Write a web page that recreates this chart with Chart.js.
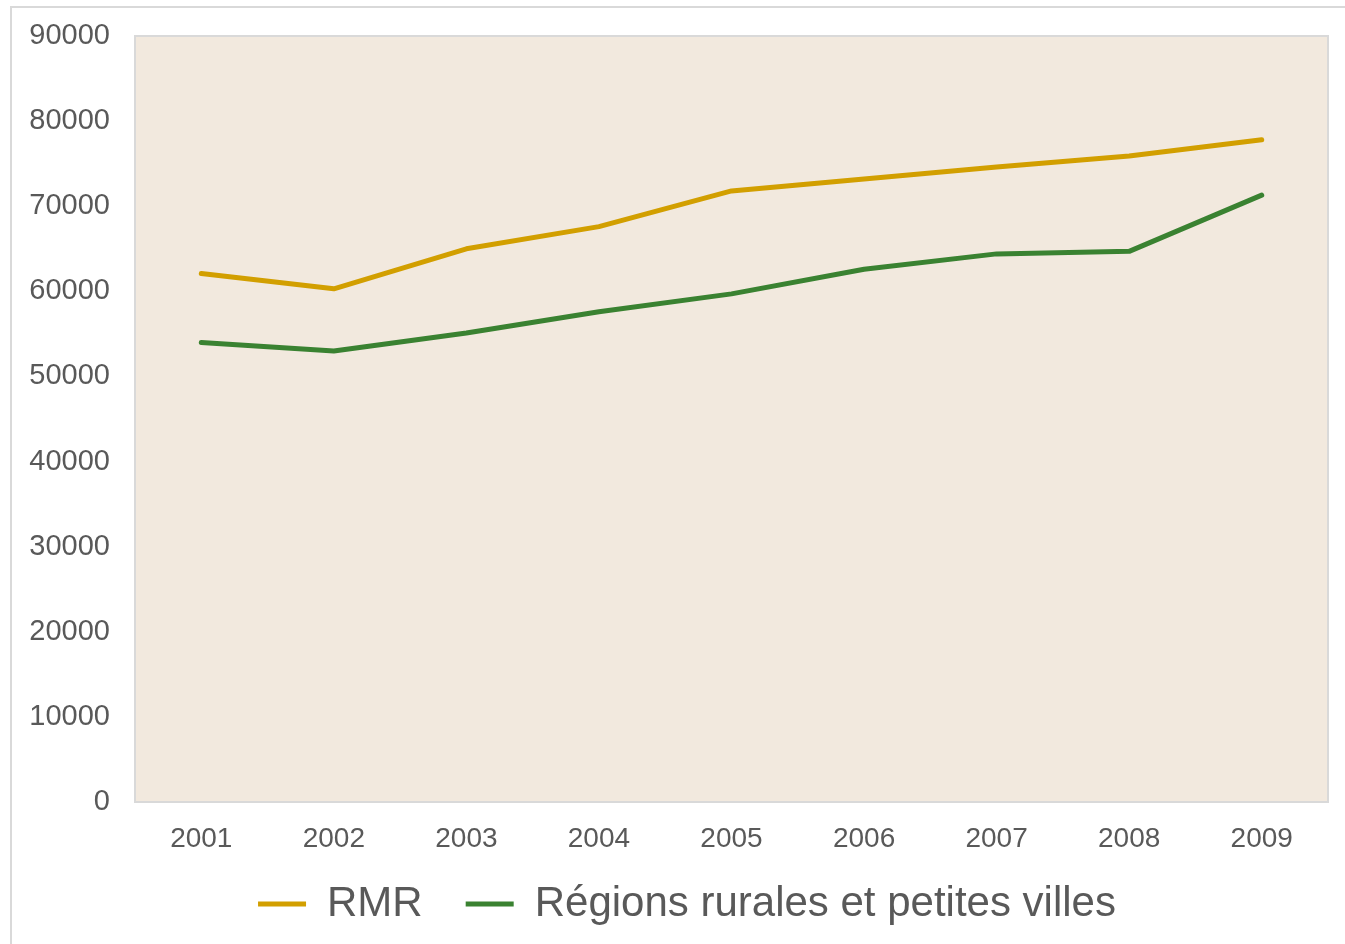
<!DOCTYPE html>
<html lang="fr">
<head>
  <meta charset="UTF-8">
  <title>RMR vs régions rurales</title>
  <script src="https://cdn.jsdelivr.net/npm/chart.js"></script>
  <style>
    html, body { margin: 0; padding: 0; background: #ffffff; }
    #wrap { width: 1345px; height: 944px; }
  </style>
</head>
<body>
  <div id="wrap">
    <canvas id="chart" width="1345" height="944"></canvas>
  </div>
  <script>
    const years = ['2001', '2002', '2003', '2004', '2005', '2006', '2007', '2008', '2009'];
    const rmrValues = [62100, 60300, 65000, 67600, 71800, 73200, 74600, 75900, 77800];
    const ruralValues = [54000, 53000, 55100, 57600, 59700, 62600, 64400, 64700, 71300];
    const seriesNames = ['RMR', 'Régions rurales et petites villes'];
    const yTicks = [0, 10000, 20000, 30000, 40000, 50000, 60000, 70000, 80000, 90000];

    const textColor = '#595959';
    const fontFamily = "'Liberation Sans', Arial, sans-serif";

    // outer frame + beige plot area
    const backdrop = {
      id: 'backdrop',
      afterLayout(chart) {
        // nudge the legend: a bit right of centre and closer to the axis
        const lg = chart.legend;
        lg.left += 23;
        lg.right += 23;
        lg.top -= 22;
        lg.bottom -= 22;
      },
      beforeDraw(chart) {
        const ctx = chart.ctx;
        const a = chart.chartArea;
        ctx.save();
        ctx.strokeStyle = '#d9d9d9';
        ctx.lineWidth = 2;
        ctx.strokeRect(11, 7, 2000, 2000);
        ctx.fillStyle = '#f2e9de';
        ctx.fillRect(a.left, a.top, a.right - a.left, a.bottom - a.top);
        ctx.strokeStyle = '#d9d9d9';
        ctx.lineWidth = 2;
        ctx.strokeRect(a.left, a.top, a.right - a.left, a.bottom - a.top);
        ctx.restore();
      }
    };

    new Chart(document.getElementById('chart'), {
      type: 'line',
      data: {
        labels: years,
        datasets: [{
          label: seriesNames[0],
          data: rmrValues,
          borderColor: '#d29f00',
          backgroundColor: '#d29f00',
          borderWidth: 5,
          borderCapStyle: 'round',
          borderJoinStyle: 'round',
          pointRadius: 0,
          tension: 0
        }, {
          label: seriesNames[1],
          data: ruralValues,
          borderColor: '#3a8231',
          backgroundColor: '#3a8231',
          borderWidth: 5,
          borderCapStyle: 'round',
          borderJoinStyle: 'round',
          pointRadius: 0,
          tension: 0
        }]
      },
      options: {
        responsive: false,
        animation: false,
        layout: { padding: { left: 0, right: 17, top: 36, bottom: -13 } },
        plugins: {
          title: { display: false },
          tooltip: { enabled: false },
          legend: {
            position: 'bottom',
            labels: {
              usePointStyle: true,
              pointStyle: 'line',
              pointStyleWidth: 48,
              boxHeight: 5,
              padding: 43,
              color: textColor,
              font: { family: fontFamily, size: 42 }
            }
          }
        },
        scales: {
          x: {
            offset: true,
            grid: { display: false, drawTicks: false },
            border: { display: false },
            ticks: {
              color: textColor,
              padding: 20,
              font: { family: fontFamily, size: 28 }
            },
            afterFit(scale) { scale.height = 60; }
          },
          y: {
            min: 0,
            max: 90000,
            afterBuildTicks(scale) { scale.ticks = yTicks.map(v => ({ value: v })); },
            grid: { display: false, drawTicks: false },
            border: { display: false },
            ticks: {
              color: textColor,
              padding: 25,
              font: { family: fontFamily, size: 29, lineHeight: 0.7 },
              callback: v => String(v)
            },
            afterFit(scale) { scale.width = 135; }
          }
        }
      },
      plugins: [backdrop]
    });
  </script>
</body>
</html>
